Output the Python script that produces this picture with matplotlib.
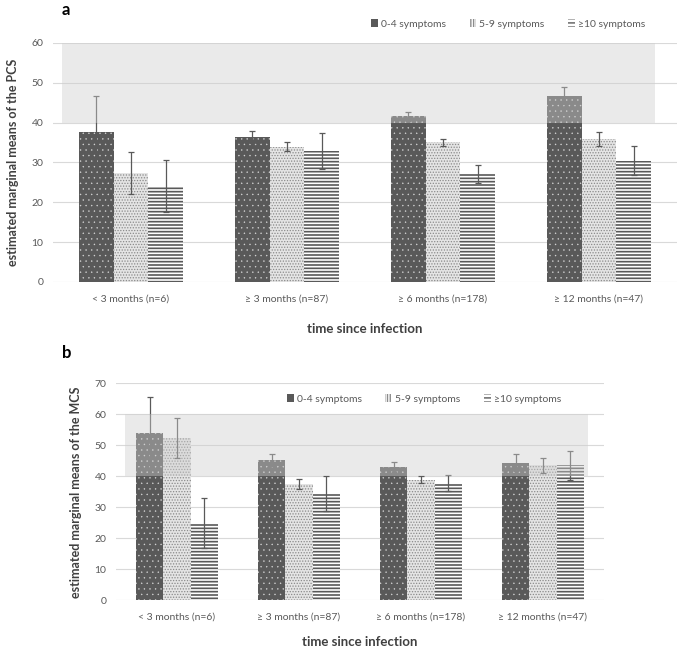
import matplotlib
matplotlib.use("Agg")
import matplotlib.pyplot as plt
from matplotlib.patches import Patch, Rectangle
import numpy as np

plt.rcParams['font.family'] = ['Lato', 'DejaVu Sans']

categories = ["< 3 months (n=6)", "\u2265 3 months (n=87)", "\u2265 6 months (n=178)", "\u2265 12 months (n=47)"]
series = ["0-4 symptoms", "5-9 symptoms", "\u226510 symptoms"]

pcs_04 = [37.6, 36.4, 41.6, 46.8]
pcs_59 = [27.3, 34.0, 35.1, 35.9]
pcs_10 = [24.1, 32.9, 27.1, 30.5]
pcs_04_err = [9.2, 1.6, 1.2, 2.2]
pcs_59_err = [5.3, 1.2, 0.9, 1.8]
pcs_10_err = [6.5, 4.5, 2.2, 3.7]

mcs_04 = [54.1, 45.3, 43.0, 44.4]
mcs_59 = [52.3, 37.4, 38.9, 43.5]
mcs_10 = [24.9, 34.4, 37.8, 43.5]
mcs_04_err = [11.4, 2.0, 1.5, 2.8]
mcs_59_err = [6.5, 1.6, 1.1, 2.4]
mcs_10_err = [8.1, 5.6, 2.5, 4.7]

DARK = '#595959'
styles = [
    dict(facecolor=DARK, edgecolor='#d8d8d8', hatch='...', hlw=0.25),
    dict(facecolor='#e4e4e4', edgecolor='#8a8a8a', hatch='......', hlw=0.6),
    dict(facecolor='white', edgecolor=DARK, hatch='-----', hlw=1.2),
]

W, H = 677, 648
fig = plt.figure(figsize=(W / 100, H / 100), dpi=100)


def ax_rect(l, r, t, b):
    return [l / W, 1 - b / H, (r - l) / W, (b - t) / H]


def panel(ax, vals, errs, ymax, band_x):
    x = np.arange(len(categories))
    bw = 0.222
    for i, (v, e, st) in enumerate(zip(vals, errs, styles)):
        with plt.rc_context({'hatch.linewidth': st['hlw']}):
            ax.bar(x + (i - 1) * bw, v, bw, facecolor=st['facecolor'],
                   edgecolor=st['edgecolor'], hatch=st['hatch'], linewidth=0, zorder=2)
        ax.errorbar(x + (i - 1) * bw, v, yerr=e, fmt='none', ecolor=DARK,
                    elinewidth=0.9, capsize=2.5, capthick=0.9, zorder=3)
    ax.add_patch(Rectangle((band_x[0], 40), band_x[1] - band_x[0], 20,
                           facecolor='#cfcfcf', alpha=0.42, linewidth=0, zorder=4))
    ax.set_xlim(-0.5, len(categories) - 0.5)
    ax.set_ylim(0, ymax)
    ax.set_yticks(np.arange(0, ymax + 1, 10))
    ax.set_xticks(x)
    ax.set_xticklabels(categories)
    ax.grid(axis='y', color='#d9d9d9', linewidth=0.8, zorder=0)
    ax.set_axisbelow(True)
    for s in ax.spines.values():
        s.set_visible(False)
    ax.tick_params(length=0, labelsize=7.5, colors=DARK)
    ax.tick_params(axis='y', pad=7)
    ax.tick_params(axis='x', pad=9)


axa = fig.add_axes(ax_rect(53, 677, 43, 282))
panel(axa, [pcs_04, pcs_59, pcs_10], [pcs_04_err, pcs_59_err, pcs_10_err], 60, (-0.442, 3.359))
axa.set_ylabel("estimated marginal means of the PCS", fontsize=9, fontweight='bold', color='#404040', labelpad=9)
axa.set_xlabel("time since infection", fontsize=9.5, fontweight='bold', color='#404040', labelpad=14)

axb = fig.add_axes(ax_rect(116, 604, 383.3, 600.3))
panel(axb, [mcs_04, mcs_59, mcs_10], [mcs_04_err, mcs_59_err, mcs_10_err], 70, (-0.426, 3.369))
axb.set_ylabel("estimated marginal means of the MCS", fontsize=9, fontweight='bold', color='#404040', labelpad=9)
axb.set_xlabel("time since infection", fontsize=9.5, fontweight='bold', color='#404040', labelpad=10)

fig.text(62 / W, 1 - 10 / H, "a", fontsize=12, fontweight='bold', ha='left', va='center')
fig.text(62 / W, 1 - 353 / H, "b", fontsize=12, fontweight='bold', ha='left', va='center')

handles = [Patch(facecolor=DARK, linewidth=0)]
with plt.rc_context({'hatch.linewidth': 0.7}):
    handles.append(Patch(facecolor='white', edgecolor='#8c8c8c', hatch='||||||', linewidth=0))
with plt.rc_context({'hatch.linewidth': 1.2}):
    handles.append(Patch(facecolor='white', edgecolor=DARK, hatch='----', linewidth=0))

for (cx, cy) in [(508, 24), (424, 399)]:
    fig.legend(handles, series, loc='center', bbox_to_anchor=(cx / W, 1 - cy / H), ncol=3,
               frameon=False, fontsize=7.5, handlelength=0.7, handleheight=0.7,
               handletextpad=0.3, columnspacing=2.2, labelcolor=DARK)

fig.savefig("out.png", dpi=100)
